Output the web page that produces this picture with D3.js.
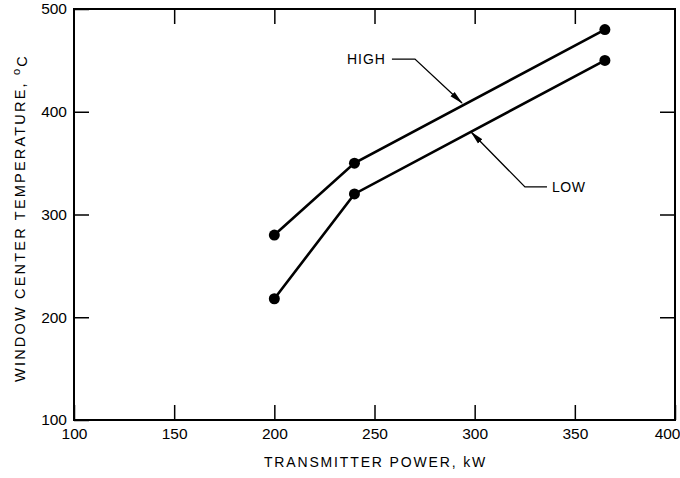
<!DOCTYPE html>
<html>
<head>
<meta charset="utf-8">
<script src="https://cdn.jsdelivr.net/npm/d3@7"></script>
<style>
  body { margin: 0; background: #fff; }
  svg { display: block; font-family: "Liberation Sans", Arial, sans-serif; }
</style>
</head>
<body>
<div id="chart"></div>
<script>
// values
var powerKW = [200, 240, 365];
var highTemp = [280, 350, 480];
var lowTemp = [218, 320, 450];
var xTickValues = [100, 150, 200, 250, 300, 350, 400];
var yTickValues = [100, 200, 300, 400, 500];

// leader lines for the two labels, in data units (kW, degC)
var highLeader = [[258.7, 451.3], [270.2, 451.3], [293.7, 408.5]];
var lowLeader = [[336.1, 326.8], [325.1, 326.8], [298.2, 380.3]];

var width = 680;
var height = 478;
var plotLeft = 74, plotRight = 675, plotTop = 9, plotBottom = 420;

var svg = d3.select("#chart").append("svg")
    .attr("width", width)
    .attr("height", height);

var x = d3.scaleLinear().domain([100, 400]).range([plotLeft, plotRight]);
var y = d3.scaleLinear().domain([100, 500]).range([plotBottom, plotTop]);

svg.append("defs").append("marker")
    .attr("id", "arrow")
    .attr("viewBox", "0 0 14 8")
    .attr("refX", 13)
    .attr("refY", 4)
    .attr("markerWidth", 14)
    .attr("markerHeight", 8)
    .attr("markerUnits", "userSpaceOnUse")
    .attr("orient", "auto")
  .append("path")
    .attr("d", "M0,1 L14,4 L0,7 Z")
    .attr("fill", "#000");

// inward ticks on all four sides
var tickLen = 15;
function styleAxis(g) {
    g.select(".domain").remove();
    g.selectAll(".tick line").attr("stroke", "#000").attr("stroke-width", 1.5);
    g.selectAll(".tick text").attr("fill", "#000").style("font-size", "15.5px");
}

var xAxisG = svg.append("g")
    .attr("transform", "translate(0," + plotBottom + ")")
    .call(d3.axisBottom(x).tickValues(xTickValues).tickSize(-tickLen).tickPadding(8).tickFormat(d3.format("d")))
    .call(styleAxis);
// last label sits against the page edge in the original
xAxisG.selectAll(".tick text")
    .filter(function(d) { return d === 400; })
    .attr("text-anchor", "end")
    .attr("x", 5);

svg.append("g")
    .attr("transform", "translate(0," + plotTop + ")")
    .call(d3.axisTop(x).tickValues(xTickValues.slice(1, -1)).tickSize(-tickLen).tickFormat(""))
    .call(styleAxis);

svg.append("g")
    .attr("transform", "translate(" + plotLeft + ",0)")
    .call(d3.axisLeft(y).tickValues(yTickValues).tickSize(-tickLen).tickPadding(7).tickFormat(d3.format("d")))
    .call(styleAxis);

svg.append("g")
    .attr("transform", "translate(" + plotRight + ",0)")
    .call(d3.axisRight(y).tickValues(yTickValues.slice(1, -1)).tickSize(-tickLen).tickFormat(""))
    .call(styleAxis);

// frame
svg.append("rect")
    .attr("x", plotLeft)
    .attr("y", plotTop)
    .attr("width", plotRight - plotLeft)
    .attr("height", plotBottom - plotTop)
    .attr("fill", "none")
    .attr("stroke", "#000")
    .attr("stroke-width", 2);

var line = d3.line()
    .x(function(d) { return x(d[0]); })
    .y(function(d) { return y(d[1]); });

[highTemp, lowTemp].forEach(function(series) {
    var pts = powerKW.map(function(p, i) { return [p, series[i]]; });
    svg.append("path")
        .attr("d", line(pts))
        .attr("fill", "none")
        .attr("stroke", "#000")
        .attr("stroke-width", 2.6);
    svg.selectAll(null)
        .data(pts)
        .enter().append("circle")
        .attr("cx", function(d) { return x(d[0]); })
        .attr("cy", function(d) { return y(d[1]); })
        .attr("r", 5.5)
        .attr("fill", "#000");
});

// labels with leader arrows
[highLeader, lowLeader].forEach(function(pts) {
    svg.append("path")
        .attr("d", line(pts))
        .attr("fill", "none")
        .attr("stroke", "#000")
        .attr("stroke-width", 1.3)
        .attr("marker-end", "url(#arrow)");
});

svg.append("text")
    .attr("x", x(highLeader[0][0]) - 6)
    .attr("y", y(highLeader[0][1]))
    .attr("dy", "0.36em")
    .attr("text-anchor", "end")
    .style("font-size", "14px")
    .style("letter-spacing", "1px")
    .text("HIGH");

svg.append("text")
    .attr("x", x(lowLeader[0][0]) + 5)
    .attr("y", y(lowLeader[0][1]))
    .attr("dy", "0.36em")
    .attr("text-anchor", "start")
    .style("font-size", "14px")
    .style("letter-spacing", "0.5px")
    .text("LOW");

// axis titles
svg.append("text")
    .attr("x", (plotLeft + plotRight) / 2 + 1)
    .attr("y", 467)
    .attr("text-anchor", "middle")
    .style("font-size", "14px")
    .style("letter-spacing", "1.85px")
    .text("TRANSMITTER POWER, kW");

var yTitle = svg.append("text")
    .attr("transform", "translate(25,218) rotate(-90)")
    .attr("text-anchor", "middle")
    .style("font-size", "14.5px")
    .style("letter-spacing", "2.2px");
yTitle.append("tspan").text("WINDOW CENTER TEMPERATURE, ");
yTitle.append("tspan").attr("dy", "-0.45em").style("font-size", "11px").text("o");
yTitle.append("tspan").attr("dy", "0.45em").text("C");
</script>
</body>
</html>
